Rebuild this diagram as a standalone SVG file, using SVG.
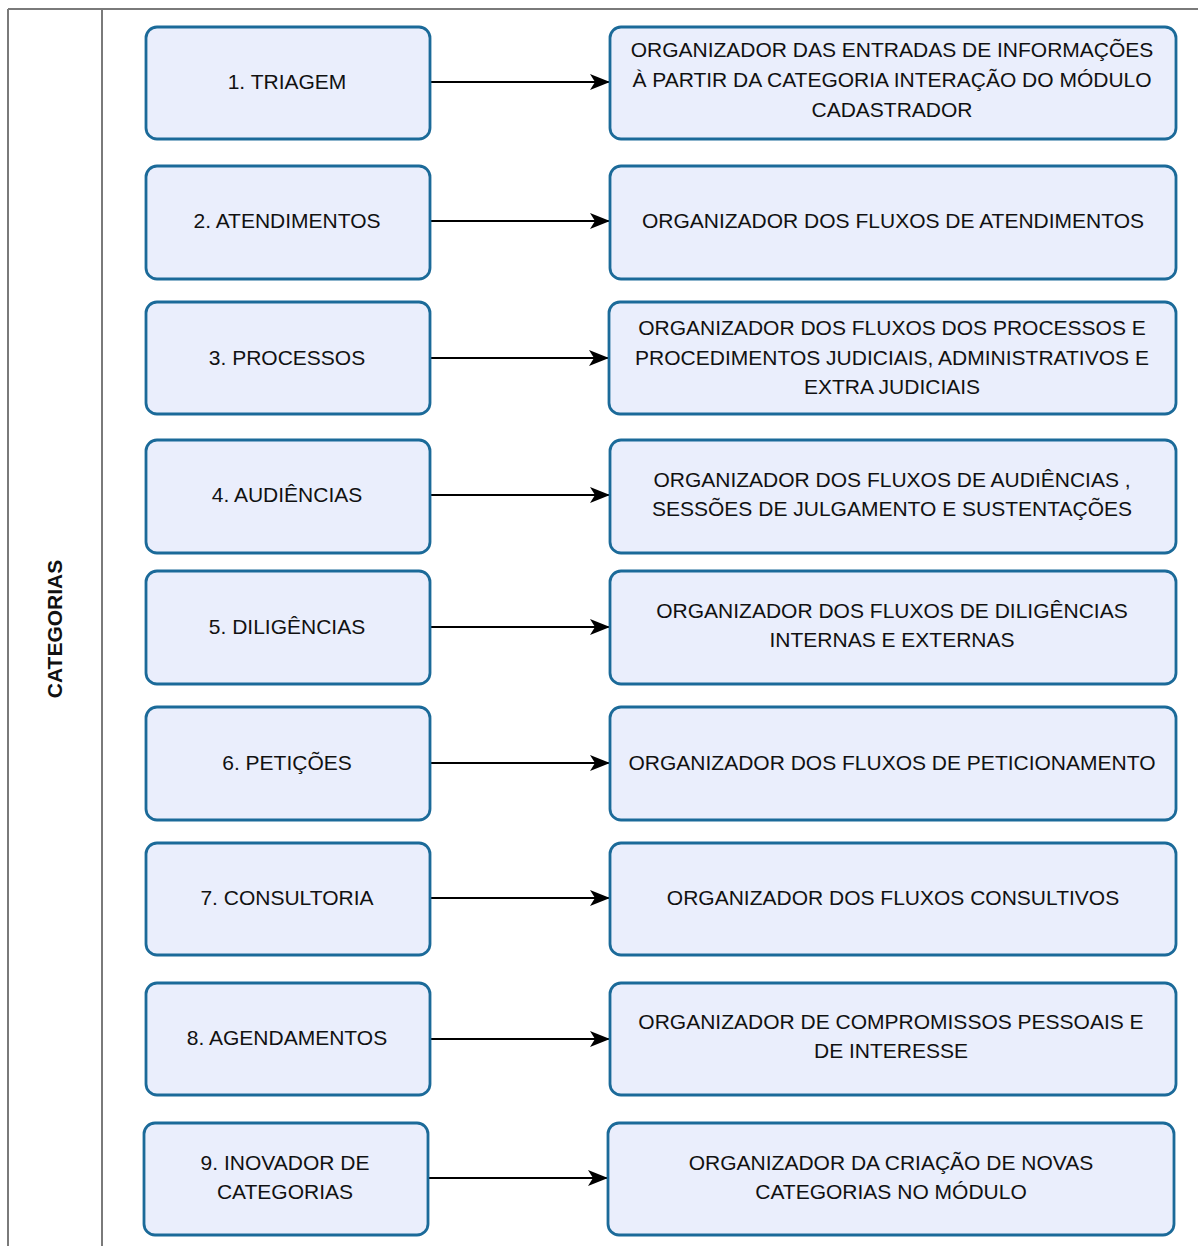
<svg xmlns="http://www.w3.org/2000/svg" width="1198" height="1246" viewBox="0 0 1198 1246">
  <style>
    .frame { stroke: #7a7a7a; stroke-width: 2; fill: none; }
    .box { fill: #eaeefc; stroke: #1b6a99; stroke-width: 2.8; }
    .lbl { font-family: "Liberation Sans", "DejaVu Sans", sans-serif; font-size: 21px; fill: #111; text-anchor: middle; }
    .lane { font-family: "Liberation Sans", "DejaVu Sans", sans-serif; font-size: 21px; font-weight: bold; fill: #111; text-anchor: middle; }
    .conn { stroke: #000; stroke-width: 2; fill: none; }
  </style>
  <defs>
    <marker id="arrow" viewBox="0 0 20 16" refX="19" refY="8" markerWidth="20" markerHeight="16" markerUnits="userSpaceOnUse" orient="auto">
      <path d="M0,0 L20,8 L0,16 L5,8 Z" fill="#000"/>
    </marker>
  </defs>

  <rect width="1198" height="1246" fill="#fff"/>

  <!-- swimlane frame -->
  <g id="lane">
    <line class="frame" x1="8" y1="9" x2="1198" y2="9"/>
    <line class="frame" x1="8" y1="9" x2="8" y2="1246"/>
    <line class="frame" x1="102" y1="9" x2="102" y2="1246"/>
    <text class="lane" transform="translate(62,629) rotate(-90)">CATEGORIAS</text>
  </g>

  <!-- connectors -->
  <g id="connectors">
    <line class="conn" x1="430" y1="82" x2="609" y2="82" marker-end="url(#arrow)"/>
    <line class="conn" x1="430" y1="221" x2="609" y2="221" marker-end="url(#arrow)"/>
    <line class="conn" x1="430" y1="358" x2="608" y2="358" marker-end="url(#arrow)"/>
    <line class="conn" x1="430" y1="495" x2="609" y2="495" marker-end="url(#arrow)"/>
    <line class="conn" x1="430" y1="627" x2="609" y2="627" marker-end="url(#arrow)"/>
    <line class="conn" x1="430" y1="763" x2="609" y2="763" marker-end="url(#arrow)"/>
    <line class="conn" x1="430" y1="898" x2="609" y2="898" marker-end="url(#arrow)"/>
    <line class="conn" x1="430" y1="1039" x2="609" y2="1039" marker-end="url(#arrow)"/>
    <line class="conn" x1="428" y1="1178" x2="607" y2="1178" marker-end="url(#arrow)"/>
  </g>

  <!-- category nodes -->
  <g id="cat1"><rect class="box" x="146" y="27" width="284" height="112" rx="11"/><text class="lbl" x="287" y="89">1. TRIAGEM</text></g>
  <g id="cat2"><rect class="box" x="146" y="166" width="284" height="113" rx="11"/><text class="lbl" x="287" y="228">2. ATENDIMENTOS</text></g>
  <g id="cat3"><rect class="box" x="146" y="302" width="284" height="112" rx="11"/><text class="lbl" x="287" y="365">3. PROCESSOS</text></g>
  <g id="cat4"><rect class="box" x="146" y="440" width="284" height="113" rx="11"/><text class="lbl" x="287" y="502">4. AUDIÊNCIAS</text></g>
  <g id="cat5"><rect class="box" x="146" y="571" width="284" height="113" rx="11"/><text class="lbl" x="287" y="634">5. DILIGÊNCIAS</text></g>
  <g id="cat6"><rect class="box" x="146" y="707" width="284" height="113" rx="11"/><text class="lbl" x="287" y="770">6. PETIÇÕES</text></g>
  <g id="cat7"><rect class="box" x="146" y="843" width="284" height="112" rx="11"/><text class="lbl" x="287" y="905">7. CONSULTORIA</text></g>
  <g id="cat8"><rect class="box" x="146" y="983" width="284" height="112" rx="11"/><text class="lbl" x="287" y="1045">8. AGENDAMENTOS</text></g>
  <g id="cat9"><rect class="box" x="144" y="1123" width="284" height="112" rx="11"/><text class="lbl" x="285" y="1170">9. INOVADOR DE</text><text class="lbl" x="285" y="1199">CATEGORIAS</text></g>

  <!-- organizer nodes -->
  <g id="org1"><rect class="box" x="610" y="27" width="566" height="112" rx="11"/>
    <text class="lbl" x="892" y="57">ORGANIZADOR DAS ENTRADAS DE INFORMAÇÕES</text>
    <text class="lbl" x="892" y="87">À PARTIR DA CATEGORIA INTERAÇÃO DO MÓDULO</text>
    <text class="lbl" x="892" y="117">CADASTRADOR</text></g>
  <g id="org2"><rect class="box" x="610" y="166" width="566" height="113" rx="11"/>
    <text class="lbl" x="893" y="228">ORGANIZADOR DOS FLUXOS DE ATENDIMENTOS</text></g>
  <g id="org3"><rect class="box" x="609" y="302" width="567" height="112" rx="11"/>
    <text class="lbl" x="892" y="335">ORGANIZADOR DOS FLUXOS DOS PROCESSOS E</text>
    <text class="lbl" x="892" y="365">PROCEDIMENTOS JUDICIAIS, ADMINISTRATIVOS E</text>
    <text class="lbl" x="892" y="394">EXTRA JUDICIAIS</text></g>
  <g id="org4"><rect class="box" x="610" y="440" width="566" height="113" rx="11"/>
    <text class="lbl" x="892" y="487">ORGANIZADOR DOS FLUXOS DE AUDIÊNCIAS ,</text>
    <text class="lbl" x="892" y="516">SESSÕES DE JULGAMENTO E SUSTENTAÇÕES</text></g>
  <g id="org5"><rect class="box" x="610" y="571" width="566" height="113" rx="11"/>
    <text class="lbl" x="892" y="618">ORGANIZADOR DOS FLUXOS DE DILIGÊNCIAS</text>
    <text class="lbl" x="892" y="647">INTERNAS E EXTERNAS</text></g>
  <g id="org6"><rect class="box" x="610" y="707" width="566" height="113" rx="11"/>
    <text class="lbl" x="892" y="770">ORGANIZADOR DOS FLUXOS DE PETICIONAMENTO</text></g>
  <g id="org7"><rect class="box" x="610" y="843" width="566" height="112" rx="11"/>
    <text class="lbl" x="893" y="905">ORGANIZADOR DOS FLUXOS CONSULTIVOS</text></g>
  <g id="org8"><rect class="box" x="610" y="983" width="566" height="112" rx="11"/>
    <text class="lbl" x="891" y="1029">ORGANIZADOR DE COMPROMISSOS PESSOAIS E</text>
    <text class="lbl" x="891" y="1058">DE INTERESSE</text></g>
  <g id="org9"><rect class="box" x="608" y="1123" width="566" height="112" rx="11"/>
    <text class="lbl" x="891" y="1170">ORGANIZADOR DA CRIAÇÃO DE NOVAS</text>
    <text class="lbl" x="891" y="1199">CATEGORIAS NO MÓDULO</text></g>
</svg>
